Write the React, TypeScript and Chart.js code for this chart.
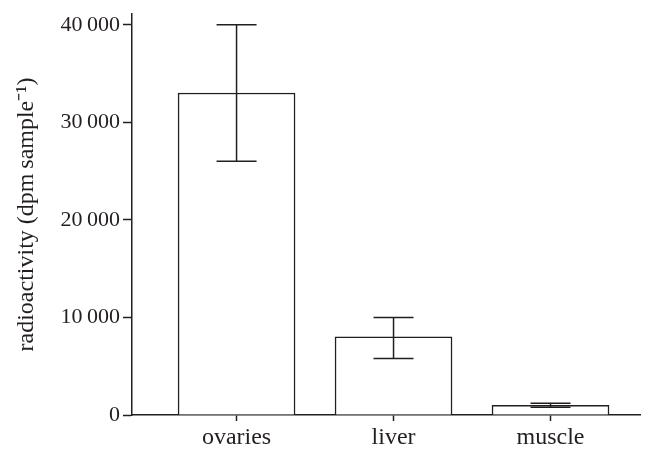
import { useEffect, useRef } from 'react';
import { Chart, registerables } from 'chart.js';

Chart.register(...registerables);

const categories = ['ovaries', 'liver', 'muscle'];
const means = [33000, 8000, 1000];
const errLow = [26000, 5800, 800];
const errHigh = [40000, 10000, 1200];
const yTicks = [0, 10000, 20000, 30000, 40000];
const yTickLabels = ['0', '10\u2009000', '20\u2009000', '30\u2009000', '40\u2009000'];

const INK = '#231f20';
const FONT = "'Liberation Serif', 'Times New Roman', serif";

const errorBars = {
  id: 'errorBars',
  afterDatasetsDraw(chart: any) {
    const { ctx, scales } = chart;
    const x = scales.x;
    const y = scales.y;
    ctx.save();
    ctx.strokeStyle = INK;
    ctx.lineWidth = 1.5;
    const half = 20;
    categories.forEach((_, i) => {
      const px = x.getPixelForValue(i);
      const top = y.getPixelForValue(errHigh[i]);
      const bot = y.getPixelForValue(errLow[i]);
      ctx.beginPath();
      ctx.moveTo(px, top);
      ctx.lineTo(px, bot);
      ctx.moveTo(px - half, top);
      ctx.lineTo(px + half, top);
      ctx.moveTo(px - half, bot);
      ctx.lineTo(px + half, bot);
      ctx.stroke();
    });
    ctx.restore();
  },
};

export default function App() {
  const ref = useRef<HTMLCanvasElement | null>(null);
  useEffect(() => {
    if (!ref.current) return;
    const chart = new Chart(ref.current, {
      type: 'bar',
      data: {
        datasets: [
          {
            data: means.map((v, i) => ({ x: i, y: v })),
            backgroundColor: '#ffffff',
            borderColor: INK,
            borderWidth: 1.5,
            barThickness: 117,
          } as any,
        ],
      },
      options: {
        animation: false,
        responsive: false,
        maintainAspectRatio: false,
        layout: { padding: { left: 0, right: 8, top: 12, bottom: 0 } },
        plugins: { legend: { display: false }, tooltip: { enabled: false } },
        scales: {
          x: {
            type: 'linear',
            min: -0.666,
            max: 2.57,
            offset: false,
            afterBuildTicks: (s: any) => {
              s.ticks = categories.map((_, i) => ({ value: i }));
            },
            afterFit: (s: any) => {
              s.height = 35;
            },
            ticks: {
              autoSkip: false,
              maxRotation: 0,
              padding: 2,
              color: INK,
              font: { family: FONT, size: 24 },
              callback: (v: any) => categories[v] ?? '',
            },
            grid: {
              drawOnChartArea: false,
              drawTicks: true,
              tickLength: 6,
              tickColor: INK,
              tickWidth: 1.5,
              offset: false,
            },
            border: { display: true, color: INK, width: 1.5 },
          } as any,
          y: {
            type: 'linear',
            min: 0,
            max: 41100,
            afterBuildTicks: (s: any) => {
              s.ticks = yTicks.map((v) => ({ value: v }));
            },
            afterFit: (s: any) => {
              s.width = 132;
            },
            ticks: {
              padding: 3,
              color: INK,
              font: { family: FONT, size: 22, lineHeight: 1 },
              callback: (_v: any, i: number) => yTickLabels[i],
            },
            grid: {
              drawOnChartArea: false,
              drawTicks: true,
              tickLength: 9,
              tickColor: INK,
              tickWidth: 1.5,
            },
            border: { display: true, color: INK, width: 1.5 },
            title: {
              display: true,
              text: 'radioactivity (dpm\u2009sample\u207B\u00B9)',
              color: INK,
              font: { family: FONT, size: 24 },
              padding: { top: 12, bottom: 0 },
            },
          } as any,
        },
      },
      plugins: [errorBars],
    });
    return () => chart.destroy();
  }, []);
  return (
    <div style={{ position: 'fixed', left: 0, top: 0, width: 648, height: 450, background: '#fff' }}>
      <canvas ref={ref} width={648} height={450} style={{ display: 'block' }} />
    </div>
  );
}
